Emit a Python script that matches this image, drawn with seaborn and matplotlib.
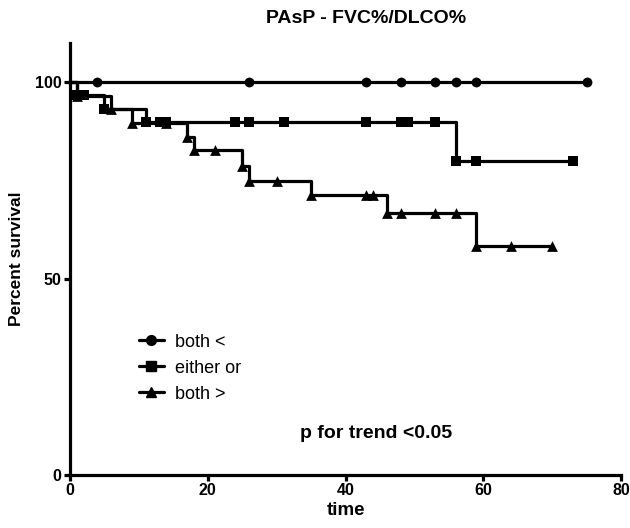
import matplotlib
matplotlib.use("Agg")
import matplotlib.pyplot as plt
from matplotlib.lines import Line2D
import pandas as pd
import seaborn as sns

# Kaplan-Meier curves (time, percent survival)
both_lt_time = [0, 4, 26, 43, 48, 53, 56, 59, 75]
both_lt_surv = [100, 100, 100, 100, 100, 100, 100, 100, 100]

either_time = [0, 1, 2, 5, 11, 13, 14, 24, 26, 31, 43, 48, 49, 53, 56, 59, 73]
either_surv = [100, 96.7, 96.7, 93.3, 90, 90, 90, 90, 90, 90, 90, 90, 90, 90, 80, 80, 80]

both_gt_time = [0, 1, 6, 9, 14, 17, 18, 21, 25, 26, 30, 35, 43, 44, 46, 48, 53, 56, 59, 64, 70]
both_gt_surv = [100, 96.6, 93.1, 89.7, 89.7, 86.2, 82.8, 82.8, 78.8, 75.0, 75.0, 71.2,
                71.2, 71.2, 66.7, 66.7, 66.7, 66.7, 58.3, 58.3, 58.3]

group_names = ["both <", "either or", "both >"]
group_markers = ["o", "s", "^"]

x_ticks = [0, 20, 40, 60, 80]
y_ticks = [0, 50, 100]

sns.set_style("ticks", {"axes.edgecolor": "black", "xtick.color": "black",
                        "ytick.color": "black", "text.color": "black",
                        "axes.labelcolor": "black"})
plt.rcParams["font.family"] = ["Liberation Sans", "DejaVu Sans"]

curves = [(both_lt_time, both_lt_surv), (either_time, either_surv), (both_gt_time, both_gt_surv)]
frames = []
for name, (t, s) in zip(group_names, curves):
    frames.append(pd.DataFrame({"time": t, "survival": s, "group": name}))
df = pd.concat(frames, ignore_index=True)

fig = plt.figure(figsize=(6.3, 5.28), dpi=100)
ax = fig.add_axes([0.111, 0.1004, 0.875, 0.818])

for name, marker in zip(group_names, group_markers):
    sub = df[df["group"] == name]
    sns.lineplot(data=sub, x="time", y="survival", drawstyle="steps-post",
                 estimator=None, sort=False, color="black", lw=2.3, ax=ax)
    pts = sub[sub["time"] > 0]
    msize = 60 if marker == "^" else 50
    sns.scatterplot(data=pts, x="time", y="survival", marker=marker, s=msize,
                    color="black", edgecolor="black", linewidth=0, ax=ax,
                    clip_on=False, zorder=3)

ax.set_xlim(0, 80)
ax.set_ylim(0, 110)
ax.set_xticks(x_ticks)
ax.set_yticks(y_ticks)
sns.despine(ax=ax)
for side in ["left", "bottom"]:
    ax.spines[side].set_linewidth(2.3)
ax.tick_params(axis="both", direction="out", length=4, width=2.3, labelsize=11.5, pad=2,
               colors="black")
for lbl in ax.get_xticklabels() + ax.get_yticklabels():
    lbl.set_fontweight("bold")

ax.set_xlabel("time", fontsize=13.5, fontweight="bold", labelpad=3, color="black")
ax.set_ylabel("Percent survival", fontsize=12.5, fontweight="bold", labelpad=8, color="black")

fig.text(0.581, 0.965, "PAsP - FVC%/DLCO%", ha="center", va="center",
         fontsize=14, fontweight="bold", color="black")

handles = [Line2D([0], [0], color="black", lw=2.3, marker=m, markersize=7)
           for m in group_markers]
leg = ax.legend(handles, group_names, loc="upper left", bbox_to_anchor=(0.095, 0.365),
                frameon=False, fontsize=13, handlelength=1.4, handletextpad=0.6,
                labelspacing=0.5)
for txt in leg.get_texts():
    txt.set_color("black")

ax.text(0.555, 0.095, "p for trend <0.05", transform=ax.transAxes, ha="center",
        va="center", fontsize=14, fontweight="bold", color="black")

fig.savefig("out.png", dpi=100)
